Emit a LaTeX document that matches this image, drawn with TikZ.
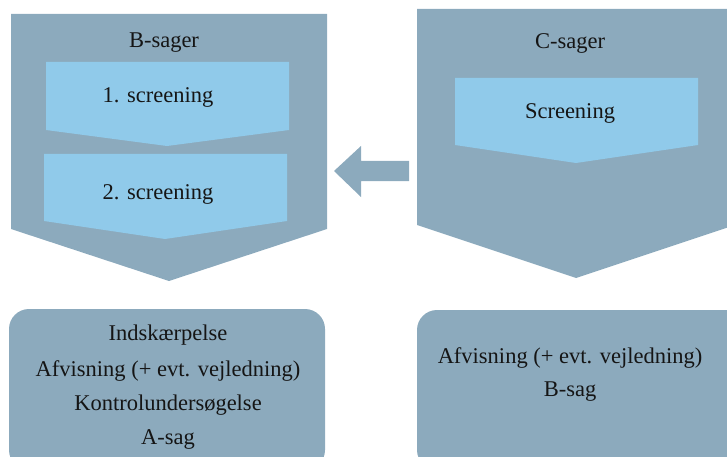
\documentclass[tikz,border=0pt]{standalone}
\usepackage{fontspec}
\setmainfont{Liberation Serif}
\definecolor{slate}{HTML}{8CAABD}
\definecolor{sky}{HTML}{90CAEA}
\definecolor{ink}{HTML}{151515}
\begin{document}
\begin{tikzpicture}[x=1pt,y=-1pt,
  outer/.style={fill=slate,draw=none},
  inner/.style={fill=sky,draw=none},
  lbl/.style={text=ink,font=\fontsize{22.5}{27}\selectfont,inner sep=0pt,anchor=center},
  outcome/.style={fill=slate,draw=none,rounded corners=20pt}]
\useasboundingbox (0,0) rectangle (727,457);
\begin{scope}
\clip (0,0) rectangle (727,457);
% B-sager chevron
\fill[outer] (11,14) -- (327,14) -- (327,229) -- (169,281) -- (11,229) -- cycle;
\fill[inner] (46,62) -- (289,62) -- (289,130) -- (167,146) -- (46,130) -- cycle;
\fill[inner] (44,154) -- (287,154) -- (287,221) -- (165,239) -- (44,221) -- cycle;
% C-sager chevron
\fill[outer] (417,9) -- (735,9) -- (735,225) -- (576,278) -- (417,225) -- cycle;
\fill[inner] (455,78) -- (698,78) -- (698,145) -- (576,163) -- (455,145) -- cycle;
% arrow from C to B
\fill[outer] (409,161) -- (361,161) -- (361,146) -- (334,171) -- (361,197) -- (361,181) -- (409,181) -- cycle;
% outcome boxes
\fill[outcome] (9,309) rectangle (325,470);
\fill[outcome] (417,310) rectangle (745,470);
\end{scope}
\node[lbl] (bt) at (164,43) {B-sager};
\node[lbl] (s1) at (158,97) {1. screening};
\node[lbl] (s2) at (158,194) {2. screening};
\node[lbl] (ct) at (570,43) {C-sager};
\node[lbl] (cs) at (570,113) {Screening};
\node[lbl] (b1) at (168,335) {Indskærpelse};
\node[lbl] (b2) at (168,371) {Afvisning (+ evt. vejledning)};
\node[lbl] (b3) at (168,405) {Kontrolundersøgelse};
\node[lbl] (b4) at (168,439) {A-sag};
\node[lbl] (c1) at (570,358) {Afvisning (+ evt. vejledning)};
\node[lbl] (c2) at (570,392) {B-sag};
\end{tikzpicture}
\end{document}
